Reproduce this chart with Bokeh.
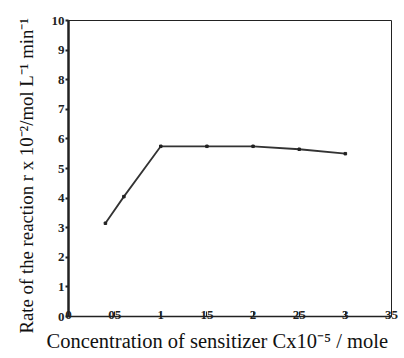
from bokeh.plotting import figure
from bokeh.embed import file_html
from bokeh.resources import INLINE
from bokeh.models import FixedTicker, Range1d, Title

# data
conc = [0.4, 0.6, 1.0, 1.5, 2.0, 2.5, 3.0]
rate = [3.15, 4.05, 5.75, 5.75, 5.75, 5.65, 5.5]

x_ticks = [0, 0.5, 1, 1.5, 2, 2.5, 3, 3.5]
x_tick_labels = ["0", "05", "1", "15", "2", "25", "3", "35"]
y_ticks = [0, 1, 2, 3, 4, 5, 6, 7, 8, 9, 10]
y_tick_labels = ["0", "1", "2", "3", "4", "5", "6", "7", "8", "9", "10"]

x_title = "Concentration of sensitizer Cx10\u207b\u2075 / mole"
y_title = "Rate of the reaction r x 10\u207b\u00b2/mol L\u207b\u00b9 min\u207b\u00b9"

p = figure(width=404, height=358, output_backend="svg", toolbar_location=None,
           x_range=Range1d(0, 3.5), y_range=Range1d(0, 10))
p.min_border_left = 68
p.min_border_right = 13
p.min_border_top = 20
p.min_border_bottom = 42
p.background_fill_color = "white"
p.border_fill_color = "white"
p.outline_line_color = "#222222"
p.outline_line_width = 1
p.xgrid.visible = False
p.ygrid.visible = False

serif = "Liberation Serif"

xa = p.xaxis[0]
xa.ticker = FixedTicker(ticks=x_ticks)
xa.major_label_overrides = {t: l for t, l in zip(x_ticks, x_tick_labels)}
xa.minor_tick_line_color = None
xa.major_tick_in = 5
xa.major_tick_out = 0
xa.major_label_standoff = -6
xa.major_label_text_font = serif
xa.major_label_text_font_style = "bold"
xa.major_label_text_font_size = "13px"
xa.major_label_text_color = "#222222"
xa.axis_line_width = 1.5
xa.axis_line_color = "#222222"
xa.major_tick_line_color = "#222222"

ya = p.yaxis[0]
ya.ticker = FixedTicker(ticks=y_ticks)
ya.major_label_overrides = {t: l for t, l in zip(y_ticks, y_tick_labels)}
ya.minor_tick_line_color = None
ya.major_tick_in = 0
ya.major_tick_out = 3
ya.major_tick_line_width = 2
ya.major_label_standoff = 1
ya.major_label_text_font = serif
ya.major_label_text_font_style = "bold"
ya.major_label_text_font_size = "13px"
ya.major_label_text_color = "#222222"
ya.axis_line_width = 2.5
ya.axis_line_color = "#222222"
ya.major_tick_line_color = "#222222"

p.line(conc, rate, line_color="#333333", line_width=1.8)
p.scatter(conc, rate, marker="square", size=2.5, fill_color="#222222", line_color="#222222")

p.add_layout(Title(text=x_title, text_font=serif, text_font_size="20.5px",
                   text_font_style="normal", text_color="#111111",
                   align="left", offset=-22, standoff=13), "below")
p.add_layout(Title(text=y_title, text_font=serif, text_font_size="18.8px",
                   text_font_style="normal", text_color="#111111",
                   align="left", offset=-17, standoff=24), "left")

open("out.html", "w").write(file_html(p, INLINE))
